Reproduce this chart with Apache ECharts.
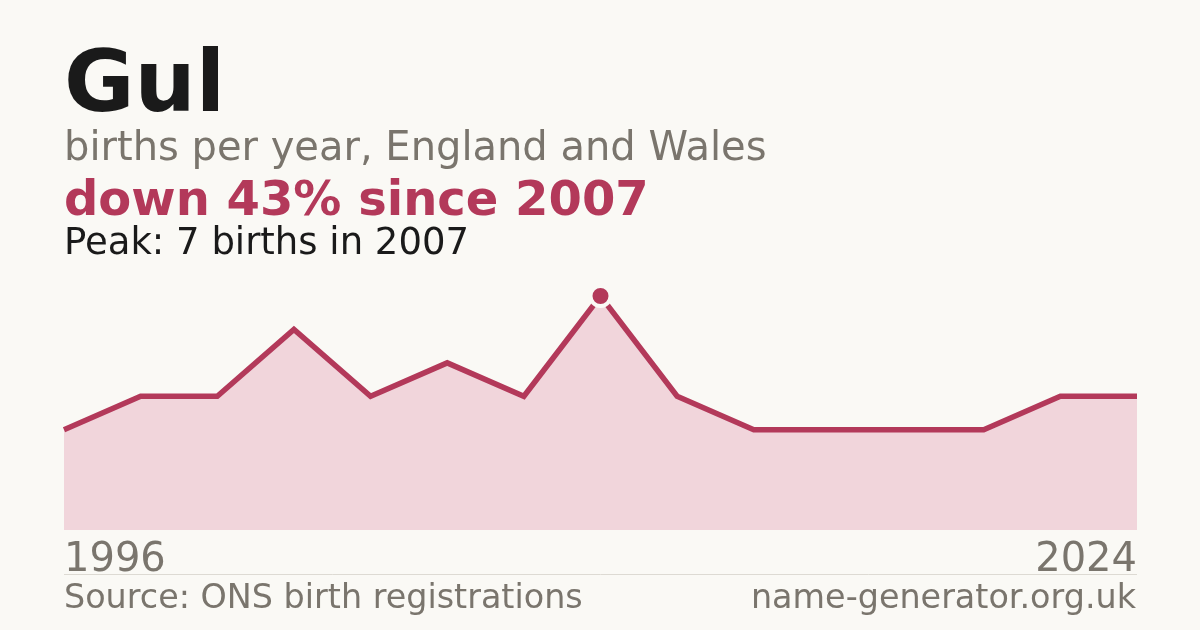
<!DOCTYPE html>
<html>
<head>
<meta charset="utf-8">
<script src="https://cdn.jsdelivr.net/npm/echarts@6/dist/echarts.min.js"></script>
<style>
html,body{margin:0;padding:0;background:#faf9f5;}
#c{width:1200px;height:630px;}
</style>
</head>
<body>
<div id="c"></div>
<script>
var years = ['1996','1998','2000','2002','2003','2005','2006','2007','2009','2012','2014','2016','2019','2022','2024'];
var births = [3,4,4,6,4,5,4,7,4,3,3,3,3,4,4];
var nameText = 'Gul';
var subtitleText = 'births per year, England and Wales';
var changeText = 'down 43% since 2007';
var peakText = 'Peak: 7 births in 2007';
var sourceText = 'Source: ONS birth registrations';
var siteText = 'name-generator.org.uk';

var peakIdx = 0;
for (var i = 1; i < births.length; i++) if (births[i] > births[peakIdx]) peakIdx = i;

var FONT = 'DejaVu Sans';
var RED = '#b3395a';
var GREY = '#7a756d';
var DARK = '#1a1a1a';
var BG = '#faf9f5';

var chart = echarts.init(document.getElementById('c'), null, {renderer:'canvas'});
chart.setOption({
  backgroundColor: BG,
  animation: false,
  grid: {left: 64, right: 63, top: 296, bottom: 100},
  xAxis: {
    type: 'category',
    data: years,
    boundaryGap: false,
    axisLine: {show: false},
    axisTick: {show: false},
    splitLine: {show: false},
    axisLabel: {
      interval: function (idx) { return idx === 0 || idx === years.length - 1; },
      color: GREY,
      fontFamily: FONT,
      fontSize: 40,
      margin: 11,
      alignMinLabel: 'left',
      alignMaxLabel: 'right'
    }
  },
  yAxis: {
    type: 'value', min: 0, max: 7, show: false,
    splitLine: {show: false}
  },
  series: [
    {
      type: 'line',
      data: births,
      showSymbol: false,
      symbol: 'none',
      clip: false,
      lineStyle: {color: RED, width: 5.5, join: 'miter', cap: 'butt'},
      areaStyle: {color: '#f1d5db', opacity: 1},
      z: 2
    },
    {
      type: 'scatter',
      data: [[peakIdx, births[peakIdx]]],
      symbol: 'circle',
      symbolSize: 20,
      clip: false,
      itemStyle: {color: RED, borderColor: BG, borderWidth: 4, opacity: 1},
      z: 5
    }
  ],
  graphic: [
    {type: 'text', left: 64, top: 46, style: {text: nameText, font: 'bold 86px "DejaVu Sans"', fill: DARK}},
    {type: 'text', left: 64, top: 130, style: {text: subtitleText, font: '40px "DejaVu Sans"', fill: GREY}},
    {type: 'text', left: 64, top: 179, style: {text: changeText, font: 'bold 48px "DejaVu Sans"', fill: RED}},
    {type: 'text', left: 64, top: 226, style: {text: peakText, font: '37px "DejaVu Sans"', fill: DARK}},
    {type: 'line', shape: {x1: 64, y1: 574.5, x2: 1137, y2: 574.5}, style: {stroke: '#dddad3', lineWidth: 1}},
    {type: 'text', left: 64, top: 583, style: {text: sourceText, font: '33.4px "DejaVu Sans"', fill: GREY}},
    {type: 'text', right: 64, top: 583, style: {text: siteText, font: '33.4px "DejaVu Sans"', fill: GREY}}
  ]
});
</script>
</body>
</html>
